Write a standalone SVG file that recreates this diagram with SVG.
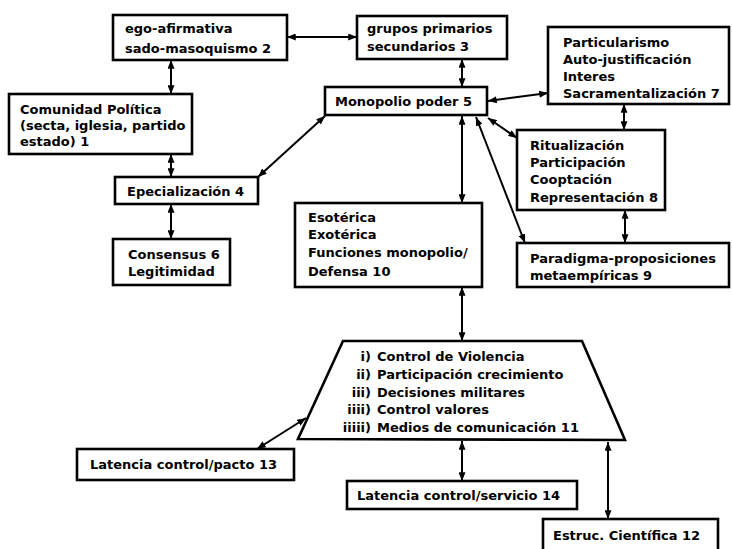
<svg xmlns="http://www.w3.org/2000/svg" width="732" height="549" viewBox="0 0 732 549">
<defs>
<style>
.box{fill:#fff;stroke:#000;stroke-width:2.6}
.t{font-family:"DejaVu Sans","Liberation Sans",sans-serif;font-weight:bold;font-size:13px;fill:#000}
.c{stroke:#000;stroke-width:2;fill:none;marker-start:url(#ah);marker-end:url(#ah)}
</style>
<marker id="ah" viewBox="0 0 10 8" refX="10" refY="4" markerWidth="9" markerHeight="7" markerUnits="userSpaceOnUse" orient="auto-start-reverse">
<path d="M0,0 L10,4 L0,8 Z" fill="#000"/>
</marker>
</defs>
<rect width="732" height="549" fill="#fff"/>
<g id="connectors">
<line class="c" x1="287" y1="37" x2="357" y2="37"/>
<line class="c" x1="171" y1="60" x2="171" y2="94"/>
<line class="c" x1="171" y1="154" x2="171" y2="177"/>
<line class="c" x1="171" y1="204" x2="171" y2="239"/>
<line class="c" x1="462" y1="59" x2="462" y2="87"/>
<line class="c" x1="488" y1="101" x2="548" y2="93"/>
<line class="c" x1="624" y1="104" x2="624" y2="130"/>
<line class="c" x1="488" y1="118" x2="517" y2="138"/>
<line class="c" x1="476" y1="117" x2="525" y2="243"/>
<line class="c" x1="625" y1="210" x2="625" y2="243"/>
<line class="c" x1="462" y1="116" x2="462" y2="203"/>
<line class="c" x1="462" y1="287" x2="462" y2="341"/>
<line class="c" x1="325" y1="116" x2="258" y2="177"/>
<line class="c" x1="306" y1="418" x2="257" y2="449"/>
<line class="c" x1="462" y1="441" x2="462" y2="481"/>
<line class="c" x1="608" y1="442" x2="608" y2="519"/>
</g>
<g id="n2"><rect class="box" x="113" y="15" width="174" height="45"/>
<text class="t" x="125" y="33">ego-afirmativa</text><text class="t" x="125" y="53">sado-masoquismo 2</text></g>
<g id="n3"><rect class="box" x="357" y="16" width="150" height="43"/>
<text class="t" x="367" y="33">grupos primarios</text><text class="t" x="367" y="51">secundarios 3</text></g>
<g id="n7"><rect class="box" x="548" y="27" width="181" height="77"/>
<text class="t" x="563" y="47">Particularismo</text><text class="t" x="563" y="64">Auto-justificación</text><text class="t" x="563" y="81">Interes</text><text class="t" x="563" y="98">Sacramentalización 7</text></g>
<g id="n5"><rect class="box" x="325" y="87" width="162" height="28"/>
<text class="t" x="335" y="106">Monopolio poder 5</text></g>
<g id="n1"><rect class="box" x="9" y="94" width="183" height="60"/>
<text class="t" x="20" y="114">Comunidad Política</text><text class="t" x="20" y="130">(secta, iglesia, partido</text><text class="t" x="20" y="146">estado)  1</text></g>
<g id="n8"><rect class="box" x="517" y="130" width="148" height="80"/>
<text class="t" x="530" y="150">Ritualización</text><text class="t" x="530" y="167">Participación</text><text class="t" x="530" y="184">Cooptación</text><text class="t" x="530" y="202">Representación 8</text></g>
<g id="n4"><rect class="box" x="115" y="177" width="143" height="27"/>
<text class="t" x="127" y="196">Epecialización 4</text></g>
<g id="n10"><rect class="box" x="295" y="203" width="187" height="84"/>
<text class="t" x="308" y="222">Esotérica</text><text class="t" x="308" y="239">Exotérica</text><text class="t" x="308" y="257">Funciones monopolio/</text><text class="t" x="308" y="276">Defensa 10</text></g>
<g id="n6"><rect class="box" x="113" y="239" width="117" height="46"/>
<text class="t" x="128" y="259">Consensus 6</text><text class="t" x="128" y="276">Legitimidad</text></g>
<g id="n9"><rect class="box" x="517" y="243" width="212" height="44"/>
<text class="t" x="530" y="263">Paradigma-proposiciones</text><text class="t" x="530" y="280">metaempíricas  9</text></g>
<g id="n11"><polygon class="box" points="343,341 582,341 625,440 298,439"/>
<text class="t" text-anchor="end" x="371" y="361">i)</text><text class="t" x="377" y="361">Control de Violencia</text>
<text class="t" text-anchor="end" x="371" y="379">ii)</text><text class="t" x="377" y="379">Participación crecimiento</text>
<text class="t" text-anchor="end" x="371" y="397">iii)</text><text class="t" x="377" y="397">Decisiones militares</text>
<text class="t" text-anchor="end" x="371" y="414">iiii)</text><text class="t" x="377" y="414">Control valores</text>
<text class="t" text-anchor="end" x="371" y="432">iiiii)</text><text class="t" x="377" y="432">Medios de comunicación 11</text></g>
<g id="n13"><rect class="box" x="77" y="449" width="217" height="31"/>
<text class="t" x="90" y="469">Latencia control/pacto 13</text></g>
<g id="n14"><rect class="box" x="347" y="481" width="230" height="28"/>
<text class="t" x="357" y="500">Latencia control/servicio 14</text></g>
<g id="n12"><rect class="box" x="543" y="519" width="175" height="35"/>
<text class="t" x="553" y="540">Estruc. Científica  12</text></g>
</svg>
